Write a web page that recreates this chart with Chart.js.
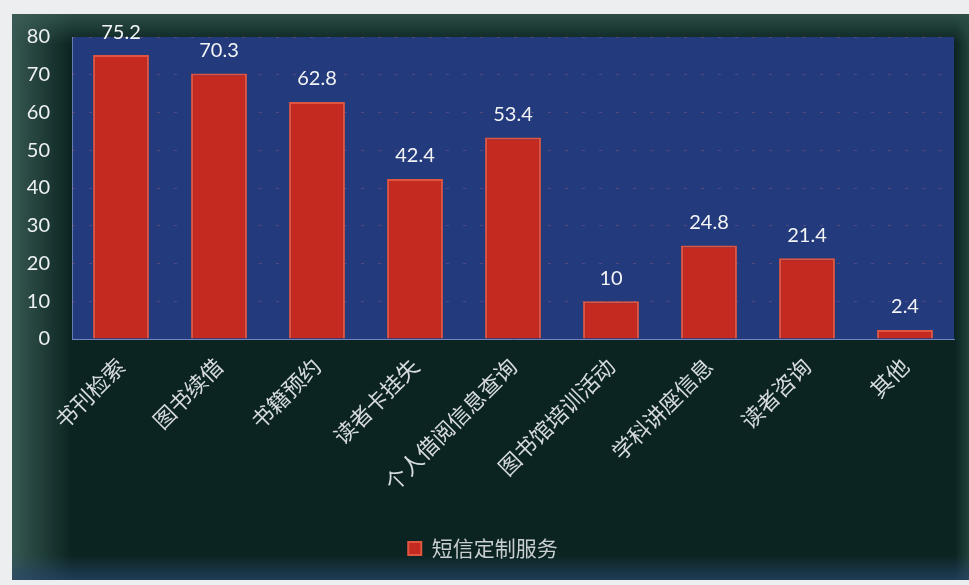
<!DOCTYPE html>
<html>
<head>
<meta charset="utf-8">
<script src="https://cdn.jsdelivr.net/npm/chart.js@4"></script>
<style>
  html, body { margin: 0; padding: 0; background: #eceeef; }
  #wrap { width: 969px; height: 585px; position: relative; }
</style>
</head>
<body>
<div id="wrap"><canvas id="chart" width="969" height="585"></canvas></div>
<script>
// Datos del gráfico
const categorias = ['书刊检索', '图书续借', '书籍预约', '读者卡挂失', '个人借阅信息查询', '图书馆培训活动', '学科讲座信息', '读者咨询', '其他'];
const valores = [75.2, 70.3, 62.8, 42.4, 53.4, 10, 24.8, 21.4, 2.4];
const nombreSerie = '短信定制服务';
const ejeMin = 0, ejeMax = 80, ejePaso = 10;

// Fondo: marco claro, zona oscura y área de trazado azul
const fondo = {
  id: 'fondo',
  beforeDraw(chart) {
    const { ctx, chartArea: a, width, height } = chart;
    ctx.save();
    ctx.fillStyle = '#eceeef';
    ctx.fillRect(0, 0, width, height);
    const x0 = 12, y0 = 14, x1 = width, y1 = 580;
    ctx.fillStyle = '#0b2421';
    ctx.fillRect(x0, y0, x1 - x0, y1 - y0);
    // viñeta izquierda
    let g = ctx.createLinearGradient(x0, 0, x0 + 60, 0);
    g.addColorStop(0, 'rgba(70,105,98,0.75)');
    g.addColorStop(1, 'rgba(70,105,98,0)');
    ctx.fillStyle = g; ctx.fillRect(x0, y0, 60, y1 - y0);
    // viñeta superior
    g = ctx.createLinearGradient(0, y0, 0, y0 + 30);
    g.addColorStop(0, 'rgba(60,95,88,0.7)');
    g.addColorStop(1, 'rgba(60,95,88,0)');
    ctx.fillStyle = g; ctx.fillRect(x0, y0, x1 - x0, 30);
    // viñeta derecha
    g = ctx.createLinearGradient(x1 - 14, 0, x1, 0);
    g.addColorStop(0, 'rgba(45,80,72,0)');
    g.addColorStop(1, 'rgba(45,80,72,0.7)');
    ctx.fillStyle = g; ctx.fillRect(x1 - 14, y0, 14, y1 - y0);
    // tono azulado inferior
    g = ctx.createLinearGradient(0, y1 - 25, 0, y1);
    g.addColorStop(0, 'rgba(40,70,110,0)');
    g.addColorStop(1, 'rgba(40,70,110,0.7)');
    ctx.fillStyle = g; ctx.fillRect(x0, y1 - 25, x1 - x0, 25);
    // área de trazado
    ctx.fillStyle = '#233a7c';
    ctx.fillRect(a.left, a.top, a.right - a.left, a.bottom - a.top);
    ctx.strokeStyle = 'rgba(120,140,190,0.8)';
    ctx.lineWidth = 1;
    ctx.beginPath();
    ctx.moveTo(a.left + 0.5, a.top);
    ctx.lineTo(a.left + 0.5, a.bottom);
    ctx.stroke();
    ctx.restore();
  }
};

// Etiquetas de valor encima de cada barra
const etiquetas = {
  id: 'etiquetas',
  afterDatasetsDraw(chart) {
    const { ctx } = chart;
    const meta = chart.getDatasetMeta(0);
    ctx.save();
    ctx.fillStyle = '#f2f4f6';
    ctx.font = '20px Lato, "Open Sans", sans-serif';
    ctx.textAlign = 'center';
    ctx.textBaseline = 'middle';
    meta.data.forEach((bar, i) => {
      ctx.fillText(String(valores[i]), bar.x, bar.y - 23);
    });
    ctx.restore();
  }
};

const ctx = document.getElementById('chart').getContext('2d');
const chart = new Chart(ctx, {
  type: 'bar',
  data: {
    labels: categorias,
    datasets: [{
      label: nombreSerie,
      data: valores,
      backgroundColor: '#c42a20',
      borderColor: '#e0553f',
      borderWidth: 2,
      categoryPercentage: 1,
      barPercentage: 0.57
    }]
  },
  options: {
    responsive: false,
    animation: false,
    layout: { padding: { left: 12, top: 37, right: 15, bottom: 16 } },
    plugins: {
      tooltip: { enabled: false },
      legend: {
        position: 'bottom',
        labels: {
          color: '#c9ced2',
          font: { family: '"Noto Sans CJK SC"', size: 21 },
          boxWidth: 13,
          boxHeight: 13,
          padding: 10
        }
      }
    },
    scales: {
      x: {
        grid: { display: false, drawTicks: false },
        border: { display: true, color: '#6f86c0', width: 1 },
        ticks: {
          color: '#d6dade',
          font: { family: '"Noto Sans CJK SC"', size: 22 },
          maxRotation: 45,
          minRotation: 45,
          padding: 14
        },
        afterFit(s) { s.height = 189; }
      },
      y: {
        min: ejeMin,
        max: ejeMax,
        grid: {
          drawTicks: false,
          color: 'rgba(200,110,130,0.28)',
          lineWidth: 1
        },
        border: { display: false, dash: [3, 14] },
        ticks: {
          stepSize: ejePaso,
          color: '#eef1f3',
          font: { family: 'Lato, "Open Sans", sans-serif', size: 20 },
          padding: 22
        },
        afterFit(s) { s.width = 60; }
      }
    }
  },
  plugins: [fondo, etiquetas]
});
</script>
</body>
</html>
